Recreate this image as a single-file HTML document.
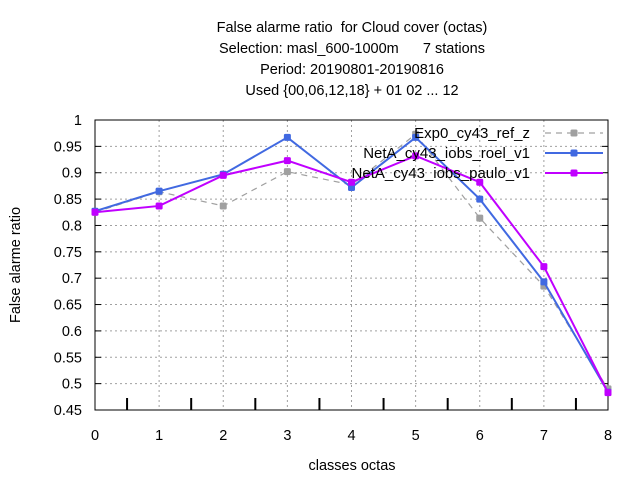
<!DOCTYPE html>
<html><head><meta charset="utf-8"><style>
body{margin:0;background:#fff}
svg{display:block;font-family:"Liberation Sans",sans-serif}
text{white-space:pre}
</style></head><body>
<svg id="c" width="640" height="480">
<g id="titles" font-size="14.5" text-anchor="middle" fill="#000">
<text x="352" y="32" xml:space="preserve">False alarme ratio  for Cloud cover (octas)</text>
<text x="352" y="53" xml:space="preserve">Selection: masl_600-1000m      7 stations</text>
<text x="352" y="74">Period: 20190801-20190816</text>
<text x="352" y="95">Used {00,06,12,18} + 01 02 ... 12</text>
</g>
<text x="352" y="470" font-size="14.5" text-anchor="middle">classes octas</text>
<text transform="translate(20,265) rotate(-90)" font-size="14.5" text-anchor="middle">False alarme ratio</text>
<g id="grid"></g><g id="axes"></g><g id="series"></g><g id="legend"></g>
</svg>
<script>
const categories=[0,1,2,3,4,5,6,7,8];
const yTicks=[0.45,0.5,0.55,0.6,0.65,0.7,0.75,0.8,0.85,0.9,0.95,1];
const yTickLabels=["0.45","0.5","0.55","0.6","0.65","0.7","0.75","0.8","0.85","0.9","0.95","1"];
const seriesNames=["Exp0_cy43_ref_z","NetA_cy43_iobs_roel_v1","NetA_cy43_iobs_paulo_v1"];
const exp0=[0.825,0.864,0.837,0.902,0.877,0.973,0.814,0.685,0.49];
const roel=[0.827,0.865,0.897,0.967,0.872,0.967,0.85,0.693,0.484];
const paulo=[0.825,0.837,0.895,0.923,0.882,0.932,0.882,0.722,0.483];
const colors=["#a0a0a0","#4169e1","#c000ff"];
const L=95,R=608,T=120,B=410;
const sx=v=>L+(v-0)/(8-0)*(R-L);
const sy=v=>B-(v-0.45)/(1-0.45)*(B-T);
const NS="http://www.w3.org/2000/svg";
function mk(p,t,a){const e=document.createElementNS(NS,t);for(const k in a)e.setAttribute(k,a[k]);p.appendChild(e);return e;}
const grid=document.getElementById('grid'),axes=document.getElementById('axes'),ser=document.getElementById('series'),leg=document.getElementById('legend');
yTicks.forEach((v,i)=>{
 if(i>0&&i<yTicks.length-1){const g=mk(grid,'line',{x1:L,x2:R,y1:sy(v),y2:sy(v),stroke:'#a0a0a0','stroke-dasharray':'2,3'});
 
 }
 const t=mk(axes,'text',{x:L-13,y:sy(v)+5,'font-size':14.5,'text-anchor':'end'});t.textContent=yTickLabels[i];
 
 
 mk(axes,'line',{x1:L,x2:L+6,y1:sy(v),y2:sy(v),stroke:'#000'});
 mk(axes,'line',{x1:R,x2:R-6,y1:sy(v),y2:sy(v),stroke:'#000'});
});
categories.forEach((c,i)=>{
 if(i>0&&i<categories.length-1){const g=mk(grid,'line',{x1:sx(c),x2:sx(c),y1:T,y2:B,stroke:'#a0a0a0','stroke-dasharray':'2,3'});
 
 }
 const t=mk(axes,'text',{x:sx(c),y:B+30,'font-size':14.5,'text-anchor':'middle'});t.textContent=String(c);
 
 
 if(i<categories.length-1){const m=mk(axes,'line',{x1:sx(c+0.5),x2:sx(c+0.5),y1:B-12,y2:B,stroke:'#000','stroke-width':2});
 
 }
});
const fr=mk(axes,'rect',{x:L,y:T,width:R-L,height:B-T,fill:'none',stroke:'#000'});


[exp0,roel,paulo].forEach((d,si)=>{
 const g=mk(ser,'g',{});
 
 
 const pts=d.map((v,i)=>sx(categories[i])+','+sy(v)).join(' ');
 const a={points:pts,fill:'none',stroke:colors[si],'stroke-width':si?2:1.2};
 if(si===0)a['stroke-dasharray']='6,5';
 mk(g,'polyline',a);
 d.forEach((v,i)=>{const p=mk(g,'rect',{x:sx(categories[i])-3.5,y:sy(v)-3.5,width:7,height:7,rx:1.5,fill:colors[si]});
 
 });
 const ly=133+si*20;
 const t=mk(leg,'text',{x:530,y:ly+5,'font-size':15,'text-anchor':'end'});t.textContent=seriesNames[si];
 
 
 const la={x1:545,x2:603,y1:ly,y2:ly,stroke:colors[si],'stroke-width':si?2:1.2};
 if(si===0)la['stroke-dasharray']='6,5';
 mk(leg,'line',la);
 mk(leg,'rect',{x:570.5,y:ly-3.5,width:7,height:7,rx:1.5,fill:colors[si]});
});
</script>
</body></html>
